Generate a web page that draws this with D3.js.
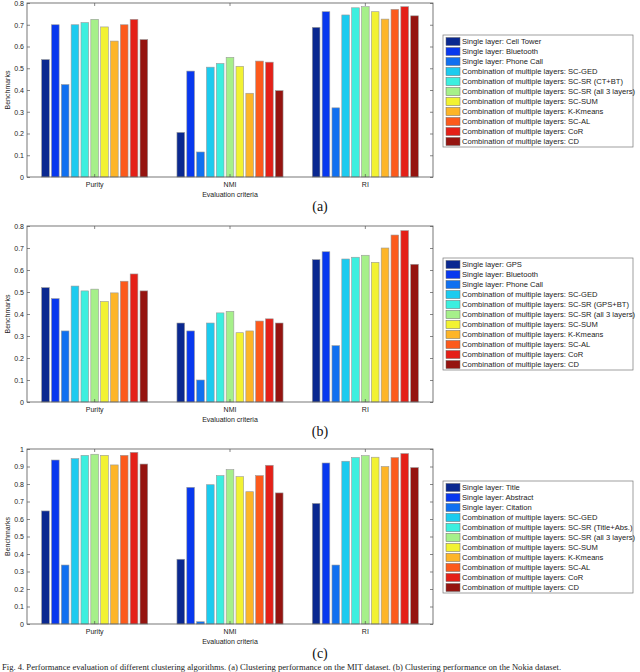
<!DOCTYPE html>
<html>
<head>
<meta charset="utf-8">
<script src="https://cdn.jsdelivr.net/npm/d3@7"></script>
<style>
  body { margin: 0; background: #fff; }
  svg { display: block; }
  .tick text { font-family: "Liberation Sans", Arial, sans-serif; font-size: 7px; fill: #222; }
</style>
</head>
<body>
<div id="chart"></div>
<script>
// criteria on the x axis
const categories = ["Purity", "NMI", "RI"];

// bar colours (jet-like)
const colors = ["#0a2890", "#0838ee", "#1070f0", "#1ccbef", "#3cefdf", "#a6f08a",
                "#f2f232", "#fdb528", "#fc5a1c", "#e42018", "#951410"];

const comboNames = [
    "Combination of multiple layers: SC-GED",
    null,
    "Combination of multiple layers: SC-SR (all 3 layers)",
    "Combination of multiple layers: SC-SUM",
    "Combination of multiple layers: K-Kmeans",
    "Combination of multiple layers: SC-AL",
    "Combination of multiple layers: CoR",
    "Combination of multiple layers: CD"
];

const seriesA = ["Single layer: Cell Tower", "Single layer: Bluetooth", "Single layer: Phone Call",
    "Combination of multiple layers: SC-GED", "Combination of multiple layers: SC-SR (CT+BT)",
    ...comboNames.slice(2)];
const seriesB = ["Single layer: GPS", "Single layer: Bluetooth", "Single layer: Phone Call",
    "Combination of multiple layers: SC-GED", "Combination of multiple layers: SC-SR (GPS+BT)",
    ...comboNames.slice(2)];
const seriesC = ["Single layer: Title", "Single layer: Abstract", "Single layer: Citation",
    "Combination of multiple layers: SC-GED", "Combination of multiple layers: SC-SR (Title+Abs.)",
    ...comboNames.slice(2)];

// (a)
const purityA = [0.54, 0.70, 0.425, 0.70, 0.71, 0.725, 0.69, 0.625, 0.70, 0.725, 0.632];
const nmiA    = [0.205, 0.487, 0.115, 0.505, 0.522, 0.55, 0.509, 0.385, 0.533, 0.528, 0.397];
const riA     = [0.688, 0.76, 0.318, 0.745, 0.778, 0.783, 0.76, 0.726, 0.771, 0.783, 0.741];
// (b)
const purityB = [0.52, 0.47, 0.323, 0.527, 0.505, 0.513, 0.457, 0.496, 0.549, 0.582, 0.505];
const nmiB    = [0.359, 0.323, 0.10, 0.359, 0.405, 0.412, 0.315, 0.323, 0.368, 0.378, 0.359];
const riB     = [0.647, 0.683, 0.256, 0.65, 0.658, 0.667, 0.635, 0.70, 0.759, 0.779, 0.626];
// (c)
const purityC = [0.646, 0.937, 0.337, 0.945, 0.964, 0.97, 0.964, 0.909, 0.964, 0.981, 0.914];
const nmiC    = [0.37, 0.781, 0.013, 0.796, 0.848, 0.882, 0.842, 0.756, 0.848, 0.907, 0.749];
const riC     = [0.689, 0.92, 0.337, 0.93, 0.951, 0.962, 0.953, 0.9, 0.951, 0.974, 0.894];

const panels = [
    { label: "(a)", top: 3,   bottom: 177, yMax: 0.8, values: [purityA, nmiA, riA], names: seriesA },
    { label: "(b)", top: 226, bottom: 402, yMax: 0.8, values: [purityB, nmiB, riB], names: seriesB },
    { label: "(c)", top: 449, bottom: 624, yMax: 1.0, values: [purityC, nmiC, riC], names: seriesC }
];

const W = 640, H = 672;
const left = 27, right = 433;
const axisColor = "#555";

const svg = d3.select("#chart").append("svg")
    .attr("width", W)
    .attr("height", H);

const x0 = d3.scaleBand()
    .domain(categories)
    .range([left, right])
    .paddingInner(0.2)
    .paddingOuter(0.1);

const x1 = d3.scaleBand()
    .domain(d3.range(11))
    .range([0, x0.bandwidth()])
    .paddingInner(0.22)
    .paddingOuter(0.11);

panels.forEach(p => {
    const g = svg.append("g");

    const y = d3.scaleLinear()
        .domain([0, p.yMax])
        .range([p.bottom, p.top]);

    const nTicks = Math.round(p.yMax * 10);

    // bars
    const groups = g.selectAll(".grp")
        .data(categories.map((c, i) => ({ cat: c, vals: p.values[i] })))
        .enter()
        .append("g")
        .attr("transform", d => `translate(${x0(d.cat)},0)`);

    groups.selectAll("rect")
        .data(d => d.vals.map((v, i) => ({ v, i })))
        .enter()
        .append("rect")
        .attr("x", d => x1(d.i))
        .attr("y", d => y(d.v))
        .attr("width", x1.bandwidth())
        .attr("height", d => y(0) - y(d.v))
        .attr("fill", d => colors[d.i])
        .attr("stroke", "#9a9a9a")
        .attr("stroke-width", 0.6);

    // axes, ticks pointing inward
    const fmt = d3.format("~g");
    const yl = g.append("g")
        .attr("transform", `translate(${left},0)`)
        .call(d3.axisLeft(y).ticks(nTicks).tickSize(-3).tickPadding(3).tickFormat(fmt));
    const yr = g.append("g")
        .attr("transform", `translate(${right},0)`)
        .call(d3.axisRight(y).ticks(nTicks).tickSize(-3).tickFormat(""));
    const xb = g.append("g")
        .attr("transform", `translate(0,${p.bottom})`)
        .call(d3.axisBottom(x0).tickSize(-3).tickPadding(5));
    const xt = g.append("g")
        .attr("transform", `translate(0,${p.top})`)
        .call(d3.axisTop(x0).tickSize(-3).tickFormat(""));

    [yl, yr, xb, xt].forEach(a => {
        a.select(".domain").remove();
        a.selectAll("line").attr("stroke", axisColor).attr("stroke-width", 0.7);
    });

    // box
    g.append("rect")
        .attr("x", left)
        .attr("y", p.top)
        .attr("width", right - left)
        .attr("height", p.bottom - p.top)
        .attr("fill", "none")
        .attr("stroke", axisColor)
        .attr("stroke-width", 0.8);

    // axis titles
    g.append("text")
        .attr("x", (left + right) / 2)
        .attr("y", p.bottom + 20)
        .attr("text-anchor", "middle")
        .style("font-family", "Liberation Sans, Arial, sans-serif")
        .style("font-size", "7px")
        .style("fill", "#222")
        .text("Evaluation criteria");

    g.append("text")
        .attr("transform", `translate(10,${(p.top + p.bottom) / 2}) rotate(-90)`)
        .attr("text-anchor", "middle")
        .style("font-family", "Liberation Sans, Arial, sans-serif")
        .style("font-size", "7px")
        .style("fill", "#222")
        .text("Benchmarks");

    // panel label
    g.append("text")
        .attr("x", 320)
        .attr("y", p.bottom + 34)
        .attr("text-anchor", "middle")
        .style("font-family", "Liberation Serif, Times New Roman, serif")
        .style("font-size", "14px")
        .style("fill", "#111")
        .text(p.label);

    // legend
    const lx = 443, ly = p.top + 32, lw = 190, rowH = 10;
    g.append("rect")
        .attr("x", lx)
        .attr("y", ly)
        .attr("width", lw)
        .attr("height", rowH * 11 + 2)
        .attr("fill", "#fff")
        .attr("stroke", "#777")
        .attr("stroke-width", 0.7);

    const rows = g.selectAll(".leg")
        .data(p.names)
        .enter()
        .append("g")
        .attr("transform", (d, i) => `translate(${lx + 3},${ly + 2 + i * rowH})`);

    rows.append("rect")
        .attr("width", 14)
        .attr("height", 8)
        .attr("y", 0.5)
        .attr("fill", (d, i) => colors[i])
        .attr("stroke", "#666")
        .attr("stroke-width", 0.5);

    rows.append("text")
        .attr("x", 16)
        .attr("y", 7.4)
        .style("font-family", "Liberation Sans, Arial, sans-serif")
        .style("font-size", "7.6px")
        .style("fill", "#222")
        .text(d => d);
});

// figure caption
svg.append("text")
    .attr("x", 2)
    .attr("y", 670)
    .style("font-family", "Liberation Serif, Times New Roman, serif")
    .style("font-size", "8.6px")
    .style("fill", "#222")
    .text("Fig. 4. Performance evaluation of different clustering algorithms. (a) Clustering performance on the MIT dataset. (b) Clustering performance on the Nokia dataset.");
</script>
</body>
</html>
